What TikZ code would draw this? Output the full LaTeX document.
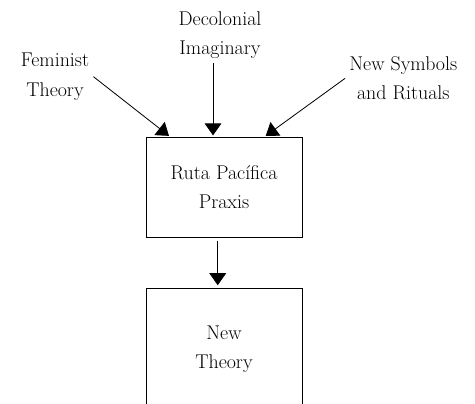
\documentclass[tikz,border=0pt]{standalone}
\usepackage{tikz}
\usetikzlibrary{arrows.meta,positioning,calc}
\begin{document}
\begin{tikzpicture}[>={Triangle[width=0.5cm,length=0.36cm]},line width=0.7pt,font=\fontsize{17}{25}\selectfont]
\tikzstyle{lbl}=[align=center]
\tikzstyle{b}=[draw,align=center,minimum width=4.68cm]
\useasboundingbox (0,0) rectangle (14.25,-12.12);
\clip (0,0) rectangle (14.25,-12.12);
\node[lbl] (fem) at (1.65,-2.3) {Feminist\\ Theory}; \node[lbl] (dec) at (6.6,-1.05) {Decolonial\\ Imaginary}; \node[lbl] (sym) at (12.1,-2.35) {New Symbols\\ and Rituals};
\node[b,minimum height=3cm] (ruta) at (6.72,-5.61) {Ruta Pacífica\\ Praxis};
\node[b,minimum height=3.66cm] (new) at (6.72,-10.47) {New\\ Theory};
\coordinate (t1) at ($(ruta.north west)!0.155!(ruta.north east)$); \coordinate (t2) at ($(ruta.north west)!0.43!(ruta.north east)$); \coordinate (t3) at ($(ruta.north west)!0.76!(ruta.north east)$);
\coordinate (s4) at ($(ruta.south west)!0.46!(ruta.south east)$);
\draw[->,shorten >=1pt] (fem.east) -- (t1); \draw[->,shorten >=1pt] (dec.south -| t2) -- (t2); \draw[->,shorten >=1pt] (sym.west) -- (t3);
\draw[->,shorten <=3pt,shorten >=2pt] (s4) -- (s4 |- new.north);
\end{tikzpicture}
\end{document}
